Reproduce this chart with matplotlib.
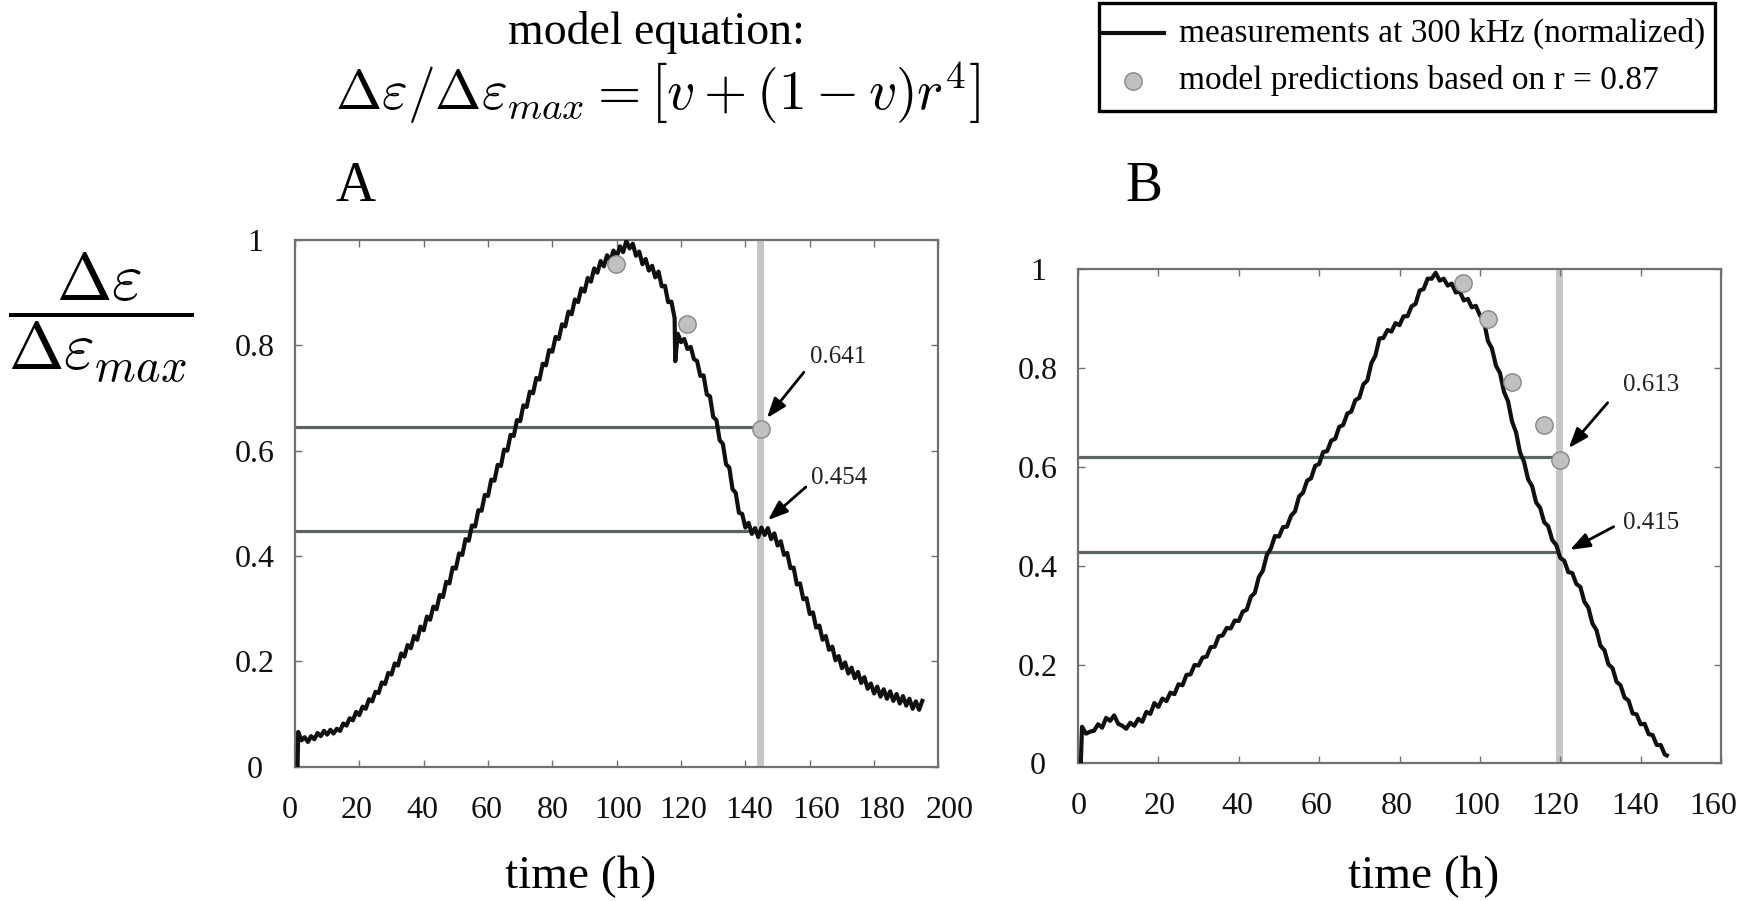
import matplotlib
matplotlib.use("Agg")
import matplotlib.pyplot as plt
import matplotlib.transforms as mtransforms
from matplotlib.lines import Line2D
from matplotlib.patches import Rectangle

plt.rcParams['font.family'] = ['Liberation Serif', 'DejaVu Serif']
plt.rcParams['mathtext.fontset'] = 'cm'

W, H, DPI = 1741, 901, 100

# ---------------- data ----------------
hours_a = [0.8] + list(range(1, 119)) + [118.2] + list(range(119, 196))
strain_a = [0.0,
    0.066, 0.050, 0.056, 0.047, 0.058, 0.052, 0.064, 0.058, 0.068, 0.061,
    0.070, 0.063, 0.072, 0.068, 0.082, 0.078, 0.092, 0.088, 0.104, 0.098,
    0.114, 0.110, 0.128, 0.124, 0.142, 0.140, 0.160, 0.157, 0.178, 0.175,
    0.196, 0.192, 0.215, 0.209, 0.231, 0.225, 0.248, 0.241, 0.266, 0.259,
    0.285, 0.279, 0.304, 0.299, 0.326, 0.322, 0.351, 0.348, 0.378, 0.376,
    0.405, 0.402, 0.432, 0.429, 0.458, 0.456, 0.487, 0.486, 0.516, 0.514,
    0.545, 0.543, 0.573, 0.571, 0.602, 0.600, 0.630, 0.628, 0.658, 0.656,
    0.686, 0.683, 0.712, 0.709, 0.738, 0.735, 0.765, 0.762, 0.791, 0.788,
    0.816, 0.812, 0.840, 0.836, 0.864, 0.859, 0.887, 0.882, 0.908, 0.902,
    0.928, 0.921, 0.946, 0.938, 0.960, 0.950, 0.971, 0.960, 0.980, 0.968,
    0.988, 0.977, 0.998, 0.984, 0.993, 0.970, 0.978, 0.954, 0.964, 0.942,
    0.951, 0.929, 0.940, 0.912, 0.913, 0.882, 0.883, 0.852,
    0.770,
    0.822, 0.806, 0.812, 0.793, 0.797, 0.774, 0.770, 0.742, 0.743, 0.707, 0.703, 0.664,
    0.658, 0.620, 0.613, 0.574, 0.568, 0.527, 0.520, 0.482, 0.480, 0.454,
    0.463, 0.442, 0.453, 0.436, 0.454, 0.440, 0.453, 0.432, 0.443, 0.420,
    0.428, 0.402, 0.406, 0.377, 0.378, 0.346, 0.348, 0.318, 0.320, 0.290,
    0.293, 0.264, 0.268, 0.241, 0.248, 0.222, 0.228, 0.202, 0.210, 0.187,
    0.198, 0.177, 0.188, 0.168, 0.180, 0.159, 0.170, 0.148, 0.158, 0.139,
    0.152, 0.133, 0.147, 0.129, 0.143, 0.125, 0.138, 0.120, 0.134, 0.116,
    0.129, 0.110, 0.124, 0.108, 0.125]

hours_b = [0.7] + list(range(1, 147)) + [146.5]
strain_b = [0.0,
    0.074, 0.060, 0.064, 0.066, 0.079, 0.072, 0.092, 0.086, 0.097, 0.080,
    0.076, 0.070, 0.082, 0.076, 0.090, 0.084, 0.104, 0.100, 0.122, 0.114,
    0.131, 0.126, 0.143, 0.140, 0.160, 0.158, 0.179, 0.180, 0.199, 0.198,
    0.214, 0.216, 0.235, 0.236, 0.257, 0.259, 0.274, 0.273, 0.289, 0.288,
    0.307, 0.311, 0.337, 0.345, 0.377, 0.390, 0.422, 0.435, 0.460, 0.459,
    0.478, 0.479, 0.501, 0.510, 0.540, 0.548, 0.572, 0.577, 0.602, 0.606,
    0.630, 0.632, 0.653, 0.657, 0.681, 0.685, 0.708, 0.712, 0.735, 0.740,
    0.767, 0.775, 0.810, 0.825, 0.860, 0.861, 0.877, 0.874, 0.891, 0.887,
    0.905, 0.905, 0.925, 0.930, 0.957, 0.960, 0.981, 0.981, 0.993, 0.977,
    0.981, 0.967, 0.971, 0.953, 0.955, 0.937, 0.940, 0.923, 0.926, 0.907,
    0.895, 0.855, 0.840, 0.805, 0.790, 0.752, 0.733, 0.692, 0.670, 0.629,
    0.610, 0.575, 0.561, 0.528, 0.517, 0.488, 0.480, 0.452, 0.442, 0.416,
    0.410, 0.387, 0.385, 0.363, 0.357, 0.327, 0.315, 0.283, 0.270, 0.238,
    0.229, 0.200, 0.193, 0.165, 0.158, 0.133, 0.127, 0.101, 0.099, 0.079,
    0.080, 0.059, 0.057, 0.037, 0.037, 0.018,
    0.016]

model_t_a = [99.9, 122.0, 145.0]
model_v_a = [0.954, 0.840, 0.641]
model_t_b = [95.9, 102.0, 108.0, 115.9, 119.9]
model_v_b = [0.972, 0.900, 0.772, 0.685, 0.613]

vline_a = 144.5
vline_b = 119.7
hlines_a = [0.645, 0.448]
hlines_b = [0.620, 0.428]

labels_a = ["0.641", "0.454"]
labels_b = ["0.613", "0.415"]
# (arrow head, arrow tail, text anchor) in data coords
arrows_a = [((146.7, 0.662), (158.2, 0.749), (160.1, 0.778)),
            ((147.0, 0.468), (158.8, 0.531), (160.4, 0.548))]
arrows_b = [((122.1, 0.638), (131.8, 0.730), (135.6, 0.766)),
            ((122.4, 0.432), (133.3, 0.479), (135.6, 0.487))]

xticks_a = [0, 20, 40, 60, 80, 100, 120, 140, 160, 180, 200]
xticks_b = [0, 20, 40, 60, 80, 100, 120, 140, 160]
yticks = [0, 0.2, 0.4, 0.6, 0.8, 1.0]
ytick_labels = ["0", "0.2", "0.4", "0.6", "0.8", "1"]

legend_labels = ["measurements at 300 kHz (normalized)",
                 "model predictions based on r = 0.87"]

# small horizontal nudges (pixels) of the x tick labels, as placed in the original
label_nudge_a = [-5, -3, -1.5, -1, 0, 1, 2, 4, 6, 7, 11]
label_nudge_b = [1, 1, -1.5, -2, -3, -4, -5, -5, -8]

# ---------------- figure ----------------
fig = plt.figure(figsize=(W / DPI, H / DPI), dpi=DPI)

def fig_rect(x0, y0, x1, y1):
    return [x0 / W, 1 - y1 / H, (x1 - x0) / W, (y1 - y0) / H]

ax_a = fig.add_axes(fig_rect(295, 240, 938.4, 766.7))
ax_b = fig.add_axes(fig_rect(1078, 269.3, 1721, 763.3))

SPINE = '#707070'
GRID_H = '#5b6565'
VCOL = '#c6c6c6'
MFC = '#c0c0c0'
MEC = '#888888'

def draw_panel(ax, t, v, mt, mv, vx, hls, labels, arrows, xticks, xmax, nudges):
    ax.axvline(vx, color=VCOL, lw=5, zorder=1)
    for y in hls:
        ax.plot([0, vx], [y, y], color=GRID_H, lw=2.3, zorder=2,
                solid_capstyle='butt')
    ax.plot(t, v, color='#101010', lw=3.0, zorder=3)
    ax.plot(mt, mv, linestyle='none', marker='o', ms=12.5,
            mfc=MFC, mec=MEC, mew=1.0, zorder=5)
    for lab, (head, tail, txt) in zip(labels, arrows):
        ax.annotate('', xy=head, xytext=tail,
                    arrowprops=dict(arrowstyle='-|>,head_length=0.6,head_width=0.22',
                                    color='black', lw=2.0, mutation_scale=20,
                                    shrinkA=0, shrinkB=0), zorder=6)
        ax.text(txt[0], txt[1], lab, fontsize=18, ha='left', va='center',
                color='#222222', zorder=6)
    ax.set_xlim(0, xmax)
    ax.set_ylim(0, 1)
    ax.set_xticks(xticks)
    ax.set_xticklabels([str(x) for x in xticks])
    ax.set_yticks(yticks)
    ax.set_yticklabels(ytick_labels)
    ax.tick_params(axis='both', direction='in', top=True, right=True,
                   length=5, width=1.0, color=SPINE, labelsize=23,
                   labelcolor='#111111')
    ax.tick_params(axis='x', pad=21)
    ax.tick_params(axis='y', pad=29)
    for lbl in ax.get_yticklabels():
        lbl.set_horizontalalignment('center')
    for lbl, dx in zip(ax.get_xticklabels(), nudges):
        off = mtransforms.ScaledTranslation(dx / DPI, 0, fig.dpi_scale_trans)
        lbl.set_transform(lbl.get_transform() + off)
    for s in ax.spines.values():
        s.set_color(SPINE)
        s.set_linewidth(1.6)
    ax.set_facecolor('white')

draw_panel(ax_a, hours_a, strain_a, model_t_a, model_v_a, vline_a, hlines_a,
           labels_a, arrows_a, xticks_a, 200, label_nudge_a)
draw_panel(ax_b, hours_b, strain_b, model_t_b, model_v_b, vline_b, hlines_b,
           labels_b, arrows_b, xticks_b, 160, label_nudge_b)

def ftext(x, y, s, **kw):
    fig.text(x / W, 1 - y / H, s, **kw)

ftext(656, 33, 'model equation:', fontsize=33, ha='center', va='center')
ftext(658, 94, r'$\Delta\varepsilon/\Delta\varepsilon_{max} = \left[v + (1-v)r^4\right]$',
      fontsize=40, ha='center', va='center')
ftext(355, 187, 'A', fontsize=40, ha='center', va='center')
ftext(1144, 187, 'B', fontsize=40, ha='center', va='center')
ftext(101, 318, r'$\dfrac{\Delta\varepsilon}{\Delta\varepsilon_{max}}$',
      fontsize=48, ha='center', va='center')
ftext(581, 877, 'time (h)', fontsize=34, ha='center', va='center')
ftext(1424, 877, 'time (h)', fontsize=34, ha='center', va='center')

# legend box (manual)
fig.add_artist(Rectangle((1099 / W, 1 - 111 / H), 616 / W, 108 / H,
                         transform=fig.transFigure, fill=True, facecolor='white',
                         edgecolor='black', lw=2.4, zorder=10))
fig.add_artist(Line2D([1103 / W, 1164 / W], [1 - 33 / H, 1 - 33 / H],
                      transform=fig.transFigure, color='#101010', lw=3, zorder=11))
fig.add_artist(Line2D([1133 / W], [1 - 81 / H], transform=fig.transFigure,
                      linestyle='none', marker='o', ms=12.5, mfc=MFC, mec=MEC,
                      mew=1.0, zorder=11))
ftext(1179, 33, legend_labels[0], fontsize=24, ha='left', va='center', zorder=12)
ftext(1179, 81, legend_labels[1], fontsize=24, ha='left', va='center', zorder=12)

fig.savefig('out.png', dpi=DPI, facecolor='white')
